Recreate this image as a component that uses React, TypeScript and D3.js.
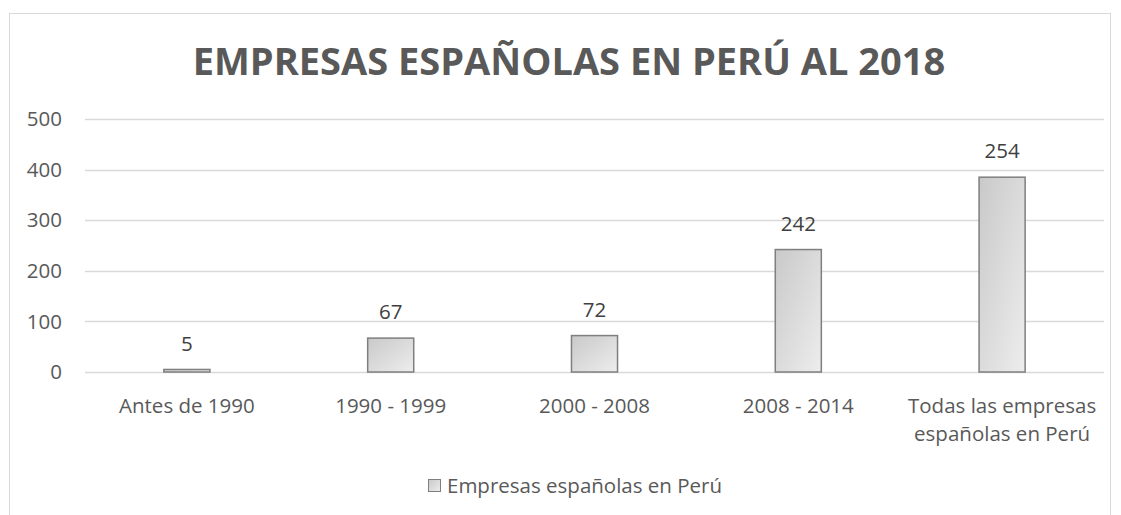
import React, { useEffect, useRef } from 'react';
import * as d3 from 'd3';

const categories = [
  'Antes de 1990',
  '1990 - 1999',
  '2000 - 2008',
  '2008 - 2014',
  'Todas las empresas|españolas en Perú',
];
// bar heights as drawn in the picture
const barValues = [5, 67, 72, 242, 385];
// data labels as printed on the picture
const barLabels = ['5', '67', '72', '242', '254'];
const yTicks = [0, 100, 200, 300, 400, 500];
const seriesName = 'Empresas españolas en Perú';
const title = 'EMPRESAS ESPAÑOLAS EN PERÚ AL 2018';

const App = () => {
  const ref = useRef<SVGSVGElement | null>(null);

  useEffect(() => {
    const width = 1121;
    const height = 515;
    const font = '"Open Sans", sans-serif';
    const textColor = '#595959';
    const fs = '20.5px';

    const svg = d3.select(ref.current);
    svg.selectAll('*').remove();

    const defs = svg.append('defs');
    const grad = defs
      .append('linearGradient')
      .attr('id', 'barGrad')
      .attr('x1', '0%')
      .attr('y1', '0%')
      .attr('x2', '100%')
      .attr('y2', '100%');
    grad.append('stop').attr('offset', '0%').attr('stop-color', '#c9c9c9');
    grad.append('stop').attr('offset', '100%').attr('stop-color', '#ededed');

    svg.append('rect').attr('width', width).attr('height', height).attr('fill', '#fff');

    // chart frame
    svg
      .append('rect')
      .attr('x', 9.5)
      .attr('y', 13.5)
      .attr('width', 1101)
      .attr('height', 520)
      .attr('fill', 'none')
      .attr('stroke', '#d9d9d9');

    svg
      .append('text')
      .attr('x', 569)
      .attr('y', 75)
      .attr('text-anchor', 'middle')
      .style('font-family', font)
      .style('font-size', '38px')
      .style('font-weight', 'bold')
      .style('fill', textColor)
      .text(title);

    const plot = { left: 85, right: 1104, top: 119, bottom: 372 };

    const x = d3
      .scaleBand()
      .domain(categories)
      .range([plot.left, plot.right])
      .paddingInner(0.774)
      .paddingOuter(0.387);
    const y = d3.scaleLinear().domain([0, 500]).range([plot.bottom, plot.top]);

    const grid = svg.append('g');
    grid
      .selectAll('line')
      .data(yTicks)
      .enter()
      .append('line')
      .attr('x1', plot.left)
      .attr('x2', plot.right)
      .attr('y1', (d) => Math.round(y(d)) + 0.5)
      .attr('y2', (d) => Math.round(y(d)) + 0.5)
      .attr('stroke', '#d9d9d9')
      .attr('stroke-width', 1.3);

    grid
      .selectAll('text')
      .data(yTicks)
      .enter()
      .append('text')
      .attr('x', 62)
      .attr('y', (d) => y(d))
      .attr('dy', '0.35em')
      .attr('text-anchor', 'end')
      .style('font-family', font)
      .style('font-size', fs)
      .style('fill', textColor)
      .text((d) => d);

    const bars = svg.append('g');
    bars
      .selectAll('rect')
      .data(categories)
      .enter()
      .append('rect')
      .attr('x', (d) => x(d)!)
      .attr('y', (d, i) => y(barValues[i]))
      .attr('width', x.bandwidth())
      .attr('height', (d, i) => plot.bottom - y(barValues[i]))
      .attr('fill', 'url(#barGrad)')
      .attr('stroke', '#7f7f7f')
      .attr('stroke-width', 1.5);

    bars
      .selectAll('text')
      .data(categories)
      .enter()
      .append('text')
      .attr('x', (d) => x(d)! + x.bandwidth() / 2)
      .attr('y', (d, i) => y(barValues[i]) - 26)
      .attr('dy', '0.35em')
      .attr('text-anchor', 'middle')
      .style('font-family', font)
      .style('font-size', fs)
      .style('fill', '#404040')
      .text((d, i) => barLabels[i]);

    const xLabels = svg.append('g');
    categories.forEach((c) => {
      const t = xLabels
        .append('text')
        .attr('x', x(c)! + x.bandwidth() / 2)
        .attr('y', 406)
        .attr('text-anchor', 'middle')
        .style('font-family', font)
        .style('font-size', fs)
        .style('fill', textColor);
      c.split('|').forEach((line, i) => {
        t.append('tspan')
          .attr('x', x(c)! + x.bandwidth() / 2)
          .attr('y', 406 + i * 28)
          .attr('dy', '0.35em')
          .text(line);
      });
    });

    const legend = svg.append('g');
    legend
      .append('rect')
      .attr('x', 428.5)
      .attr('y', 479.5)
      .attr('width', 12)
      .attr('height', 12)
      .attr('fill', 'url(#barGrad)')
      .attr('stroke', '#7f7f7f');
    legend
      .append('text')
      .attr('x', 447)
      .attr('y', 486)
      .attr('dy', '0.35em')
      .style('font-family', font)
      .style('font-size', fs)
      .style('fill', textColor)
      .text(seriesName);
  }, []);

  return (
    <div style={{ position: 'absolute', left: 0, top: 0 }}>
      <svg ref={ref} width={1121} height={515} style={{ display: 'block' }} />
    </div>
  );
};

export default App;
